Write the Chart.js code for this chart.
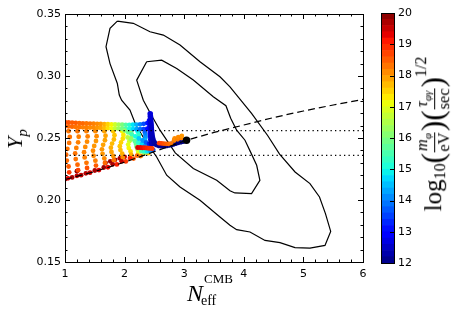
<!DOCTYPE html>
<html><head><meta charset="utf-8">
<script src="https://cdn.jsdelivr.net/npm/chart.js@4.4.1/dist/chart.umd.min.js"></script>
<style>
html,body{margin:0;padding:0;background:#fff;}
#wrap{position:relative;width:457px;height:316px;overflow:hidden;background:#fff;}
canvas{position:absolute;left:0;top:0;}
.lbl{position:absolute;font-family:"Liberation Serif","DejaVu Serif",serif;color:#000;white-space:nowrap;line-height:1;}
#cbl{display:flex;align-items:center;}
.frac{display:inline-block;text-align:center;font-size:16.5px;line-height:0.85;padding:0 1px;}
.frac .num{display:block;border-bottom:1px solid #000;padding:0 1px 1px 1px;}
.frac .den{display:block;padding-top:2px;}
.par{font-size:31px;display:inline-block;}
</style></head><body>
<div id="wrap">
<canvas id="main" width="457" height="316" style="width:457px;height:316px"></canvas>
<canvas id="cb" width="457" height="316" style="width:457px;height:316px"></canvas>
<div class="lbl" style="left:15px;top:139px;transform:translate(-50%,-50%) rotate(-90deg);font-size:22px;font-style:italic;">Y<span style="font-size:15px;position:relative;top:5px;">p</span></div>
<div class="lbl" style="left:187px;top:281px;font-size:24px;font-style:italic;">N</div>
<div class="lbl" style="left:201px;top:294px;font-size:14px;">eff</div>
<div class="lbl" style="left:204px;top:272px;font-size:13px;">CMB</div>
<div class="lbl" id="cbl" style="left:433px;top:134px;transform:translate(-50%,-50%) rotate(-90deg);">
<span style="font-size:25px;">log</span><span style="font-size:16px;position:relative;top:7px;">10</span><span class="par">(</span><span class="frac"><span class="num"><i>m</i><sub style="font-size:11px;"><i>φ</i></sub></span><span class="den">eV</span></span><span class="par">)</span><span class="par">(</span><span class="frac"><span class="num"><i>τ</i><sub style="font-size:11px;"><i>φγ</i></sub></span><span class="den">sec</span></span><span class="par">)</span><span style="font-size:16px;align-self:flex-start;margin-top:-2px;">1/2</span>
</div>
</div>
<script>
// ---- tick labels ----
const xTicks = [1, 2, 3, 4, 5, 6];
const yTicks = [0.15, 0.20, 0.25, 0.30, 0.35];
const cbTicks = [12, 13, 14, 15, 16, 17, 18, 19, 20];

// ---- contours ----
const outerX = [1.878,2.146,2.426,2.65,2.93,3.265,3.60,3.768,4.13,4.40,4.60,4.86,5.11,5.27,5.37,5.458,5.362,5.11,4.859,4.607,4.356,4.104,3.88,3.768,3.60,3.265,2.93,2.706,2.538,2.36,2.19,2.09,1.95,1.911,1.878,1.755,1.688,1.755,1.878];
const outerY = [0.3443,0.3425,0.3357,0.333,0.325,0.3115,0.2994,0.2913,0.2698,0.252,0.237,0.2226,0.2132,0.2024,0.189,0.1747,0.1634,0.1612,0.1616,0.1656,0.1674,0.1742,0.1761,0.1796,0.1863,0.1998,0.2105,0.220,0.2347,0.247,0.2603,0.2725,0.2805,0.2846,0.294,0.310,0.3236,0.3384,0.3443];
const innerX = [2.37,2.622,2.874,3.153,3.488,3.70,3.78,3.88,4.02,4.12,4.216,4.27,4.13,3.85,3.768,3.545,3.153,2.85,2.594,2.45,2.314,2.203,2.37];
const innerY = [0.3115,0.3128,0.3061,0.2967,0.2832,0.2760,0.2660,0.2563,0.2482,0.2380,0.2280,0.2159,0.2052,0.2057,0.2075,0.2159,0.2254,0.2380,0.2563,0.2683,0.2805,0.2967,0.3115];

// ---- reference lines ----
const dashX = [1.0,1.5,2.0,2.5,3.04,3.5,4.0,4.5,5.0,5.5,6.0];
const dashY = [0.2165,0.2230,0.2305,0.2390,0.2482,0.2545,0.2605,0.2665,0.2718,0.2766,0.2811];
const dotLevels = [0.2560, 0.2360];
const dotX = [1, 6];

// ---- scatter: top band ----
const bandX  = [1.00,1.06,1.12,1.18,1.24,1.30,1.36,1.42,1.48,1.54,1.60,1.66,1.72,1.78,1.84,1.90,1.96,2.02,2.08,2.14,2.20,2.26,2.32,2.38];
const band1Y = [0.2628,0.2626,0.2624,0.2622,0.2620,0.2618,0.2617,0.2616,0.2615,0.2614,0.2613,0.2612,0.2611,0.2610,0.2609,0.2608,0.2607,0.2606,0.2606,0.2607,0.2608,0.2610,0.2614,0.2620];
const band1C = [18.6,18.6,18.5,18.5,18.4,18.4,18.3,18.3,18.2,18.1,18.0,17.8,17.5,17.2,16.8,16.4,16.0,15.6,15.2,14.8,14.4,14.0,13.6,13.2];
const band2Y = [0.2595,0.2593,0.2591,0.2589,0.2587,0.2586,0.2585,0.2584,0.2583,0.2582,0.2581,0.2580,0.2579,0.2578,0.2577,0.2576,0.2575,0.2574,0.2573,0.2572,0.2571,0.2571,0.2572,0.2575];
const band2C = [18.5,18.4,18.4,18.3,18.3,18.2,18.2,18.1,18.1,18.0,17.9,17.7,17.4,17.1,16.7,16.3,15.9,15.5,15.1,14.7,14.3,13.9,13.5,13.1];

// ---- scatter: arcs ----
const arcX = [
 [1.06,1.08,1.07,1.04,1.02,1.03,1.06,1.07,1.05],
 [1.21,1.23,1.22,1.19,1.17,1.18,1.21,1.22,1.20],
 [1.36,1.38,1.37,1.34,1.32,1.33,1.36,1.37,1.35],
 [1.51,1.53,1.52,1.49,1.47,1.48,1.51,1.52,1.50],
 [1.66,1.68,1.67,1.64,1.62,1.63,1.66,1.67,1.65],
 [1.81,1.83,1.82,1.79,1.77,1.78,1.81,1.82,1.80],
 [1.96,1.98,1.97,1.94,1.92,1.93,1.96,1.97,1.95],
 [2.10,2.12,2.11,2.08,2.06,2.07,2.10,2.11,2.09],
 [2.22,2.24,2.23,2.21,2.19,2.20,2.22,2.23,2.21],
 [2.34,2.35,2.35,2.34,2.32,2.32,2.33,2.34,2.33]];
const arcY = [
 [0.2555,0.2508,0.2460,0.2413,0.2365,0.2318,0.2270,0.2223,0.2175],
 [0.2555,0.2510,0.2465,0.2420,0.2375,0.2330,0.2285,0.2240,0.2195],
 [0.2555,0.2513,0.2470,0.2428,0.2385,0.2343,0.2300,0.2258,0.2215],
 [0.2555,0.2515,0.2476,0.2436,0.2397,0.2357,0.2317,0.2278,0.2238],
 [0.2555,0.2518,0.2482,0.2445,0.2409,0.2372,0.2335,0.2299,0.2262],
 [0.2555,0.2522,0.2488,0.2455,0.2422,0.2388,0.2355,0.2321,0.2288],
 [0.2555,0.2525,0.2494,0.2464,0.2434,0.2403,0.2373,0.2342,0.2312],
 [0.2555,0.2528,0.2501,0.2474,0.2447,0.2419,0.2392,0.2365,0.2338],
 [0.2550,0.2526,0.2502,0.2478,0.2454,0.2430,0.2406,0.2382,0.2358],
 [0.2545,0.2524,0.2503,0.2483,0.2462,0.2441,0.2420,0.2400,0.2380]];
const arcC = [
 [18.3,18.3,18.3,18.3,18.4,18.4,18.5,18.8,19.4],
 [18.3,18.2,18.2,18.2,18.3,18.3,18.4,18.7,19.5],
 [18.2,18.2,18.1,18.1,18.2,18.2,18.3,18.6,19.6],
 [18.1,18.1,18.0,18.0,18.1,18.1,18.2,18.5,19.7],
 [17.9,17.9,17.9,17.9,18.0,18.0,18.1,18.4,19.8],
 [17.6,17.6,17.7,17.7,17.8,17.9,18.0,18.3,19.7],
 [17.2,17.3,17.4,17.5,17.6,17.7,17.8,18.1,19.5],
 [16.2,16.4,16.6,16.8,17.0,17.2,17.4,17.8,19.0],
 [15.0,15.2,15.4,15.6,15.8,16.0,16.4,17.0,18.4],
 [13.8,14.0,14.2,14.4,14.6,14.8,15.0,15.4,16.5]];

// ---- scatter: bottom row along the dashed line ----
const botX = [1.00,1.12,1.27,1.42,1.57,1.72,1.87,2.02,2.15,2.27,2.40];
const botY = [0.2168,0.2182,0.2200,0.2220,0.2241,0.2264,0.2287,0.2311,0.2334,0.2355,0.2378];
const botC = [19.8,19.7,19.5,19.4,19.3,19.2,19.0,18.8,18.5,18.2,17.6];
const darkX = [1.20,1.68,1.76,1.84,1.92,2.00];
const darkY = [0.2232,0.2300,0.2312,0.2324,0.2336,0.2348];
const darkC = [19.9,19.9,19.8,19.8,19.7,19.6];

// ---- scatter: fan near the spike ----
const fanX  = [2.00,2.06,2.12,2.18,2.24,2.30,2.36,2.41];
const fanY  = [0.2560,0.2545,0.2530,0.2513,0.2496,0.2480,0.2465,0.2452];
const fanC  = [16.2,15.8,15.4,15.0,14.6,14.2,13.7,13.2];
const fan2X = [2.05,2.11,2.17,2.23,2.29,2.35,2.41];
const fan2Y = [0.2505,0.2490,0.2475,0.2462,0.2450,0.2440,0.2432];
const fan2C = [16.6,16.2,15.7,15.2,14.7,14.2,13.6];
const baseX = [2.28,2.33,2.38,2.43,2.48];
const baseY = [0.2395,0.2392,0.2392,0.2395,0.2405];
const baseC = [15.5,15.2,14.8,14.3,13.6];

// ---- scatter: blue L track ----
const blueX = [2.43,2.433,2.436,2.439,2.442,2.445,2.448,2.451,2.455,2.46,2.466,2.475,2.49,2.51,2.54,2.58,2.62,2.66,2.70,2.74,2.78,2.82,2.86,2.90,2.94,2.98,3.02];
const blueY = [0.2695,0.2676,0.2657,0.2638,0.2619,0.2600,0.2581,0.2562,0.2543,0.2524,0.2505,0.2487,0.2470,0.2456,0.2446,0.2440,0.2437,0.2437,0.2439,0.2443,0.2448,0.2453,0.2459,0.2465,0.2470,0.2475,0.2480];
const blueC = [12.65,12.62,12.6,12.58,12.55,12.52,12.5,12.48,12.45,12.42,12.4,12.35,12.3,12.25,12.2,12.15,12.1,12.05,12.0,12.0,12.0,12.0,12.0,12.0,12.0,12.0,12.0];
const blue2X = [2.415,2.418,2.421,2.424,2.428,2.432,2.437,2.443,2.45];
const blue2Y = [0.2640,0.2615,0.2590,0.2565,0.2540,0.2515,0.2490,0.2468,0.2450];
const blue2C = [13.0,12.95,12.9,12.85,12.8,12.7,12.6,12.5,12.4];

// ---- scatter: red / orange pieces ----
const redX = [2.22,2.26,2.30,2.34,2.38,2.42,2.46];
const redY = [0.2424,0.2423,0.2422,0.2421,0.2419,0.2417,0.2415];
const redC = [19.4,19.3,19.2,19.1,19.0,18.9,18.8];
const streakX = [2.58,2.62,2.66,2.70,2.74,2.78];
const streakY = [0.2458,0.2456,0.2454,0.2453,0.2452,0.2455];
const streakC = [18.8,18.7,18.6,18.5,18.4,18.3];
const blobX = [2.83,2.84,2.89,2.90,2.95,2.96];
const blobY = [0.2480,0.2497,0.2490,0.2507,0.2500,0.2516];
const blobC = [18.2,18.1,18.2,18.1,18.2,18.0];

// ---- standard point ----
const stdX = [3.04];
const stdY = [0.2482];

// ---------------------------------------------------------
function jet(v){
  let t=(v-12)/8; t=Math.max(0,Math.min(1,t));
  const R=[[0,0],[0.35,0],[0.66,1],[0.89,1],[1,0.5]];
  const G=[[0,0],[0.125,0],[0.375,1],[0.64,1],[0.91,0],[1,0]];
  const B=[[0,0.5],[0.11,1],[0.34,1],[0.65,0],[1,0]];
  function f(s){for(let i=1;i<s.length;i++){if(t<=s[i][0]){const a=s[i-1],b=s[i];return a[1]+(b[1]-a[1])*(t-a[0])/(b[0]-a[0]);}}return s[s.length-1][1];}
  return 'rgb('+Math.round(255*f(R))+','+Math.round(255*f(G))+','+Math.round(255*f(B))+')';
}
function pts(xs,ys){return xs.map((x,i)=>({x:x,y:ys[i]}));}
function sc(xs,ys,cs,r,order){
  return {type:'scatter',data:pts(xs,ys),showLine:false,pointRadius:r,pointHoverRadius:r,
    pointBackgroundColor:cs.map(jet),pointBorderWidth:0,borderColor:'rgba(0,0,0,0)',order:order};
}
function ln(xs,ys,dash,w,order){
  return {type:'scatter',data:pts(xs,ys),showLine:true,borderColor:'#000',borderWidth:w,
    borderDash:dash,pointRadius:0,pointHoverRadius:0,fill:false,tension:0,order:order};
}

const datasets = [];
datasets.push({type:'scatter',data:pts(stdX,stdY),showLine:false,pointRadius:3.7,pointBackgroundColor:'#000',pointBorderWidth:0,order:0});
datasets.push(ln(dashX,dashY,[7,4],1.2,1));
dotLevels.forEach(v=>datasets.push(ln(dotX,[v,v],[1.3,3.2],1.3,1)));
datasets.push(sc(blobX,blobY,blobC,2.4,2));
datasets.push(sc(streakX,streakY,streakC,2.4,3));
datasets.push(sc(redX,redY,redC,2.5,4));
datasets.push(sc(blueX,blueY,blueC,2.8,5));
datasets.push(sc(blue2X,blue2Y,blue2C,2.6,6));
datasets.push(sc(fanX,fanY,fanC,2.4,7));
datasets.push(sc(fan2X,fan2Y,fan2C,2.4,7));
datasets.push(sc(baseX,baseY,baseC,2.4,7));
datasets.push(sc(bandX,band1Y,band1C,2.4,8));
datasets.push(sc(bandX,band2Y,band2C,2.4,8));
arcX.forEach((xs,i)=>datasets.push(sc(xs,arcY[i],arcC[i],2.4,9)));
datasets.push(sc(botX,botY,botC,2.4,10));
datasets.push(sc(darkX,darkY,darkC,2.4,10));
datasets.push(ln(outerX,outerY,[],1.2,11));
datasets.push(ln(innerX,innerY,[],1.2,11));

function crisp(v){return Math.round(v)+0.5;}
const framePlugin = {id:'frame',afterDraw(chart){
  const ctx=chart.ctx,a=chart.chartArea,x=chart.scales.x,y=chart.scales.y;
  ctx.save();ctx.strokeStyle='#000';ctx.lineWidth=1;ctx.beginPath();
  for(let k=0;k<=25;k++){const v=1+k*0.2;const p=crisp(x.getPixelForValue(v));const L=(k%5===0)?5:2.5;
    ctx.moveTo(p,a.bottom);ctx.lineTo(p,a.bottom-L);ctx.moveTo(p,a.top);ctx.lineTo(p,a.top+L);}
  for(let k=0;k<=20;k++){const v=0.15+k*0.01;const p=crisp(y.getPixelForValue(v));const L=(k%5===0)?5:2.5;
    ctx.moveTo(a.left,p);ctx.lineTo(a.left+L,p);ctx.moveTo(a.right,p);ctx.lineTo(a.right-L,p);}
  ctx.stroke();
  ctx.strokeRect(crisp(a.left),crisp(a.top),Math.round(a.right-a.left),Math.round(a.bottom-a.top));
  ctx.restore();
}};

const tickFont={family:'DejaVu Sans',size:11};
new Chart(document.getElementById('main'),{
  type:'scatter',
  data:{datasets:datasets},
  options:{
    responsive:false,animation:false,devicePixelRatio:1,events:[],
    layout:{padding:{left:0,right:94,top:14,bottom:0}},
    plugins:{legend:{display:false},tooltip:{enabled:false}},
    scales:{
      x:{type:'linear',min:1,max:6,afterFit(s){s.height=54;},
        afterBuildTicks(s){s.ticks=xTicks.map(v=>({value:v}));},
        grid:{display:false,drawTicks:false},border:{display:false},
        ticks:{padding:6,color:'#000',font:tickFont,maxRotation:0,callback:v=>String(v)}},
      y:{type:'linear',min:0.15,max:0.35,afterFit(s){s.width=65;},
        afterBuildTicks(s){s.ticks=yTicks.map(v=>({value:v}));},
        grid:{display:false,drawTicks:false},border:{display:false},
        ticks:{padding:4,color:'#000',font:tickFont,callback:v=>Number(v).toFixed(2)}}
    }
  },
  plugins:[framePlugin]
});

// ---- colorbar ----
const cbSegs=[];
for(let k=0;k<40;k++){cbSegs.push([12+k*0.2,12+(k+1)*0.2]);}
const cbPlugin={id:'cbframe',afterDraw(chart){
  const ctx=chart.ctx,a=chart.chartArea,y=chart.scales.y;
  ctx.save();ctx.strokeStyle='#000';ctx.lineWidth=1;ctx.beginPath();
  cbTicks.forEach(v=>{const p=crisp(y.getPixelForValue(v));ctx.moveTo(a.right,p);ctx.lineTo(a.right-4,p);});
  ctx.stroke();
  ctx.strokeRect(crisp(a.left),crisp(a.top),Math.round(a.right-a.left),Math.round(a.bottom-a.top));
  ctx.restore();
}};
new Chart(document.getElementById('cb'),{
  type:'bar',
  data:{labels:[''],datasets:cbSegs.map(s=>({data:[[s[0],s[1]]],backgroundColor:jet((s[0]+s[1])/2),
    borderWidth:0,barPercentage:1,categoryPercentage:1,grouped:false}))},
  options:{
    responsive:false,animation:false,devicePixelRatio:1,events:[],
    layout:{padding:{left:381,right:33,top:13,bottom:53}},
    plugins:{legend:{display:false},tooltip:{enabled:false}},
    scales:{
      x:{display:false,stacked:true},
      y:{position:'right',min:12,max:20,stacked:false,afterFit(s){s.width=30;},
        afterBuildTicks(s){s.ticks=cbTicks.map(v=>({value:v}));},
        grid:{display:false,drawTicks:false},border:{display:false},
        ticks:{padding:4,color:'#000',font:tickFont}}
    }
  },
  plugins:[cbPlugin]
});
</script>
</body></html>
